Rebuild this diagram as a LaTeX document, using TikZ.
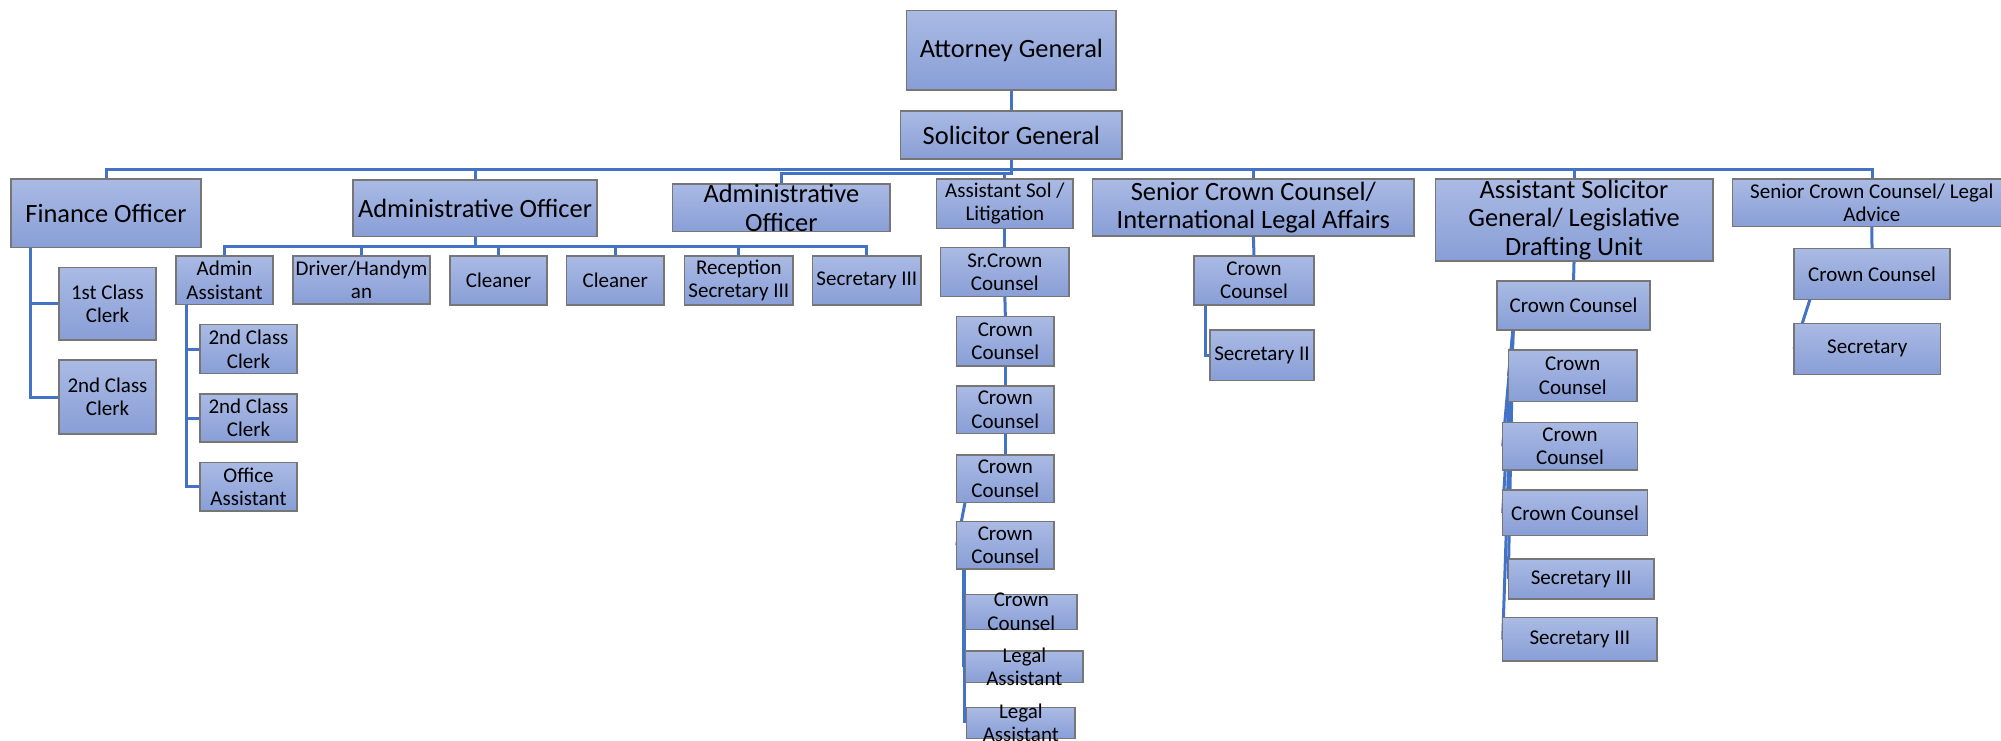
\documentclass[tikz,border=0pt]{standalone}
\usepackage{fontspec}
\setmainfont{Carlito}
\usetikzlibrary{backgrounds}
\definecolor{boxtop}{RGB}{170,186,228}
\definecolor{boxbot}{RGB}{136,158,214}
\definecolor{boxline}{RGB}{118,118,118}
\definecolor{connblue}{RGB}{68,114,196}
\tikzset{
  orgbox/.style={draw=boxline, line width=1.4pt, top color=boxtop, bottom color=boxbot, inner sep=0pt, outer sep=0pt},
  bigtxt/.style={font=\fontsize{26.4}{28.7}\selectfont, align=center, inner sep=0pt},
  smalltxt/.style={font=\fontsize{21}{23.5}\selectfont, align=center, inner sep=0pt},
  conn/.style={draw=connblue, line width=3pt},
}
\newcommand\placebox[7]{%
  \node[orgbox, minimum width={(#4-#2)*1pt}, minimum height={(#5-#3)*1pt}] (#1) at ({(#2+#4)/2},{(#3+#5)/2}) {};
  \node[#6] (#1-t) at (#1.center) {#7};}
\begin{document}
\begin{tikzpicture}[x=1pt,y=-1pt]
\useasboundingbox (0,0) rectangle (2001,741);
% top
\placebox{ag}{906.7}{10.7}{1116}{90}{bigtxt}{Attorney General}
\placebox{sg}{900.7}{111}{1122}{159}{bigtxt}{Solicitor General}
% second level
\placebox{fin}{11}{179}{201}{247.7}{bigtxt}{Finance Officer}
\placebox{adm}{353}{180}{597}{236.7}{bigtxt}{Administrative Officer}
\placebox{adm2}{672.7}{184}{890}{231.7}{bigtxt}{Administrative\\Officer}
\placebox{lit}{936.7}{179}{1073}{228.3}{smalltxt}{Assistant Sol /\\Litigation}
\placebox{ila}{1092.7}{179}{1414}{236}{bigtxt}{Senior Crown Counsel/\\International Legal Affairs}
\placebox{asg}{1435.3}{179}{1712.8}{261}{bigtxt}{Assistant Solicitor\\General/ Legislative\\Drafting Unit}
\placebox{la}{1732.7}{179}{2011}{226.7}{smalltxt}{Senior Crown Counsel/ Legal\\Advice}
% finance
\placebox{fc1}{59}{267.7}{156}{340}{smalltxt}{1st Class\\Clerk}
\placebox{fc2}{59}{360}{156}{434}{smalltxt}{2nd Class\\Clerk}
% administrative officer
\placebox{aa}{176}{256}{273}{304.7}{smalltxt}{Admin\\Assistant}
\placebox{drv}{293}{256}{430}{304}{smalltxt}{Driver/Handym\\an}
\placebox{cl1}{450}{256}{547}{305}{smalltxt}{Cleaner}
\placebox{cl2}{566.7}{256}{664}{305}{smalltxt}{Cleaner}
\placebox{rec}{684.7}{256}{793}{305}{smalltxt}{Reception\\Secretary III}
\placebox{s3}{812.7}{256}{921}{305}{smalltxt}{Secretary III}
\placebox{ac1}{200}{324.7}{297}{373.7}{smalltxt}{2nd Class\\Clerk}
\placebox{ac2}{200}{394}{297}{442}{smalltxt}{2nd Class\\Clerk}
\placebox{oa}{200}{462.7}{297}{511}{smalltxt}{Office\\Assistant}
% litigation
\placebox{src}{940.7}{247.7}{1069}{296.7}{smalltxt}{Sr.Crown\\Counsel}
\placebox{lc1}{956.7}{316.7}{1054}{366}{smalltxt}{Crown\\Counsel}
\placebox{lc2}{956.7}{386}{1054}{433.3}{smalltxt}{Crown\\Counsel}
\placebox{lc3}{956.7}{455}{1054}{502.7}{smalltxt}{Crown\\Counsel}
\placebox{lc4}{956.7}{521.7}{1054}{569}{smalltxt}{Crown\\Counsel}
\placebox{lc5}{965.7}{594.3}{1077}{629.3}{smalltxt}{Crown\\Counsel}
\placebox{la1}{965.7}{651}{1083}{682.3}{smalltxt}{Legal\\Assistant}
\placebox{la2}{966.7}{707.7}{1075}{738.3}{smalltxt}{Legal\\Assistant}
% international legal affairs
\placebox{ic}{1194}{256}{1314}{305}{smalltxt}{Crown\\Counsel}
\placebox{is}{1210}{330}{1314}{380.7}{smalltxt}{Secretary II}
% legislative drafting
\placebox{gc1}{1497}{281}{1650}{330}{smalltxt}{Crown Counsel}
\placebox{gc2}{1508.5}{350}{1637}{401.7}{smalltxt}{Crown\\Counsel}
\placebox{gc3}{1502.7}{422.3}{1637.3}{470}{smalltxt}{Crown\\Counsel}
\placebox{gc4}{1502.7}{490}{1647.3}{535.7}{smalltxt}{Crown Counsel}
\placebox{gs1}{1508.3}{559}{1654}{599}{smalltxt}{Secretary III}
\placebox{gs2}{1502.7}{617.7}{1657}{661}{smalltxt}{Secretary III}
% legal advice
\placebox{lac}{1794}{248.3}{1950}{299.3}{smalltxt}{Crown Counsel}
\placebox{las}{1794}{323.3}{1940.4}{374.3}{smalltxt}{Secretary}
% connectors
\begin{scope}[on background layer]
\fill[white] (0,0) rectangle (2001,741);
\coordinate (bus) at (1872,169);
\coordinate (sgj) at (1011,173.5);
\coordinate (admbus) at (0,246.7);
\coordinate (finx) at (30.7,0);
\coordinate (aax) at (186,0);
\coordinate (lx) at (965,0);
\coordinate (lx2) at (964.8,0);
\coordinate (lx3) at (963.6,0);
\coordinate (ix) at (1205,0);
\coordinate (gx) at (1513,0);
\coordinate (lsx) at (1810,0);
\draw[conn] (ag.south) -- (sg.north);
\draw[conn] (fin.north) |- (bus) -- (la.north -| bus);
\draw[conn] (adm.north) -- (adm.north |- bus);
\draw[conn] (ila.north) -- (ila.north |- bus);
\draw[conn] (asg.north) -- (asg.north |- bus);
\draw[conn] (sg.south) -- (sg.south |- sgj) -- (adm2.north |- sgj) -- (adm2.north);
\draw[conn] (lit.north) -- (lit.north |- sgj);
% finance
\draw[conn] (fin.south -| finx) |- (fc2.west);
\draw[conn] (fin.south -| finx) |- (fc1.west);
% administrative officer
\draw[conn] (adm.south) -- (adm.south |- admbus);
\draw[conn] (aa.north) |- (s3.north |- admbus) -- (s3.north);
\foreach \n in {drv,cl1,cl2,rec} \draw[conn] (\n.north) -- (\n.north |- admbus);
\draw[conn] (aa.south -| aax) |- (oa.west);
\draw[conn] (aa.south -| aax) |- (ac1.west);
\draw[conn] (aa.south -| aax) |- (ac2.west);
% litigation
\draw[conn] (lit.south) -- (src.north);
\draw[conn] (src.south) -- (lc1.north);
\draw[conn] (lc1.south) -- (lc2.north);
\draw[conn] (lc2.south) -- (lc3.north);
\draw[conn] (lc3.south -| lx) -- (lc4.west);
\draw[conn] (lc4.south -| lx2) -- (lx2 |- la2.west);
\draw[conn] (lc4.south -| lx3) -- (lx3 |- la1.west);
% international
\draw[conn] (ila.south) -- (ic.north);
\draw[conn] (ic.south -| ix) |- (is.west);
% legislative drafting
\draw[conn] (asg.south) -- (gc1.north);
\foreach \n in {gc2,gc3,gc4,gs1,gs2} \draw[conn] (gc1.south -| gx) -- (\n.west);
% legal advice
\draw[conn] (la.south) -- (lac.north);
\draw[conn] (lac.south -| lsx) -- (las.west);
\end{scope}
\end{tikzpicture}
\end{document}
